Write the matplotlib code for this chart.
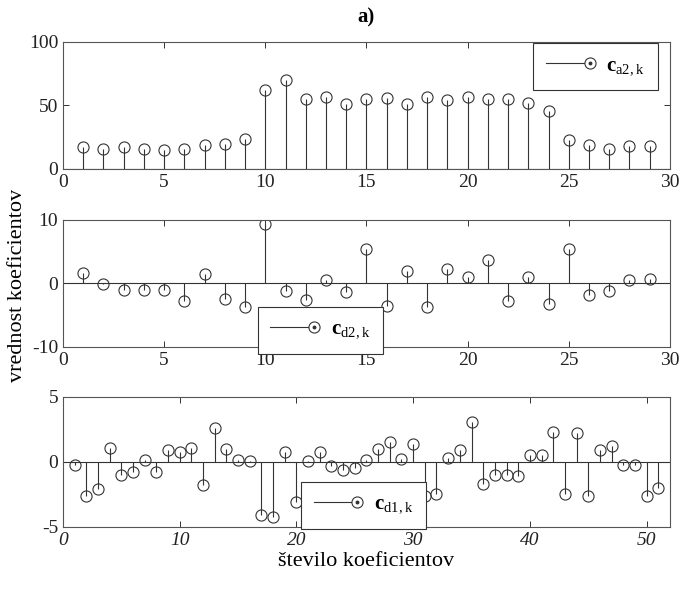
"""
Stem plots of wavelet coefficients (approximation a2 and details d2, d1).
"""

import matplotlib
matplotlib.use("Agg")
import matplotlib.pyplot as plt
from matplotlib.container import StemContainer
from matplotlib.legend_handler import HandlerBase
from matplotlib.lines import Line2D

plt.rcParams["font.family"] = ["Liberation Serif", "DejaVu Serif"]
plt.rcParams["mathtext.fontset"] = "custom"
plt.rcParams["mathtext.rm"] = "Liberation Serif"
plt.rcParams["mathtext.bf"] = "Liberation Serif:bold"
plt.rcParams["axes.unicode_minus"] = False

INK = "#333333"

# approximation coefficients, level 2
c_a2 = [17, 16, 17, 16, 15, 16, 19, 20, 24, 62, 70, 55, 57, 51, 55,
        56, 51, 57, 54, 57, 55, 55, 52, 46, 23, 19, 16, 18, 18]

# detail coefficients, level 2
c_d2 = [1.6, -0.1, -1.1, -1.1, -1.0, -2.8, 1.5, -2.4, -3.7, 9.4, -1.25,
        -2.55, 0.6, -1.35, 5.4, -3.6, 2.0, -3.75, 2.3, 0.95, 3.7, -2.7,
        1.1, -3.3, 5.4, -1.8, -1.15, 0.6, 0.7]

# detail coefficients, level 1
c_d1 = [-0.23, -2.6, -2.1, 1.05, -1.0, -0.75, 0.15, -0.75, 0.9, 0.8, 1.1,
        -1.75, 2.6, 1.0, 0.15, 0.05, -4.05, -4.25, 0.8, -3.1, 0.05, 0.75,
        -0.3, -0.6, -0.5, 0.15, 1.0, 1.5, 0.25, 1.4, -2.6, -2.45, 0.3, 0.9,
        3.1, -1.7, -1.0, -1.0, -1.1, 0.5, 0.55, 2.3, -2.45, 2.2, -2.65,
        0.95, 1.25, -0.25, -0.25, -2.6, -2.0]

labels = [r"$\mathbf{c}_{\mathrm{a2,k}}$",
          r"$\mathbf{c}_{\mathrm{d2,k}}$",
          r"$\mathbf{c}_{\mathrm{d1,k}}$"]


class StemHandle(HandlerBase):
    """Legend entry drawn as a short line that ends in a ring with a dot."""

    def create_artists(self, legend, orig_handle, xdescent, ydescent,
                       width, height, fontsize, trans):
        y = height / 2 - ydescent
        x0, x1 = -xdescent, width - xdescent
        line = Line2D([x0, x1], [y, y], color=INK, lw=0.8)
        ring = Line2D([x1], [y], marker="o", ms=8, mfc="white",
                      mec=INK, mew=0.8, ls="")
        dot = Line2D([x1], [y], marker="o", ms=1.8, color=INK, ls="")
        for art in (line, ring, dot):
            art.set_transform(trans)
        return [line, ring, dot]


def stem_panel(ax, values, xlim, ylim, xticks, yticks):
    k = list(range(1, len(values) + 1))
    stems = ax.stem(k, values, basefmt=" ")
    plt.setp(stems.stemlines, color=INK, lw=0.8)
    plt.setp(stems.markerline, color=INK, marker="o", ms=8,
             mfc="none", mec=INK, mew=0.8)
    ax.axhline(0, color=INK, lw=0.8, zorder=1)
    ax.set(xlim=xlim, ylim=ylim, xticks=xticks, yticks=yticks)
    ax.tick_params(direction="in", top=True, right=True, length=4,
                   width=0.7, colors=INK, labelsize=14, labelcolor="#222222")
    for spine in ax.spines.values():
        spine.set_color("#555555")
        spine.set_linewidth(0.8)
    return stems


fig = plt.figure(figsize=(6.86, 5.89), dpi=100)
ax1 = fig.add_axes([0.0918, 0.7131, 0.8848, 0.2156])
ax2 = fig.add_axes([0.0918, 0.4109, 0.8848, 0.2156])
ax3 = fig.add_axes([0.0918, 0.1053, 0.8848, 0.2207])

s1 = stem_panel(ax1, c_a2, (0, 30), (0, 100), range(0, 31, 5), [0, 50, 100])
s2 = stem_panel(ax2, c_d2, (0, 30), (-10, 10), range(0, 31, 5), [-10, 0, 10])
s3 = stem_panel(ax3, c_d1, (0, 52), (-5, 5), range(0, 51, 10), [-5, 0, 5])
for lab in ax3.get_xticklabels():
    lab.set_style("italic")

legend_kw = dict(handler_map={StemContainer: StemHandle()},
                 fancybox=False, framealpha=1, edgecolor="#333333",
                 fontsize=15, handlelength=2.1, handletextpad=0.8,
                 borderpad=0.6, borderaxespad=0)
leg1 = ax1.legend([s1], [labels[0]], loc="upper right",
                  bbox_to_anchor=(0.980, 0.992), **legend_kw)
leg2 = ax2.legend([s2], [labels[1]], loc="upper left",
                  bbox_to_anchor=(0.376, 0.4788),
                  bbox_transform=fig.transFigure, **legend_kw)
leg3 = ax3.legend([s3], [labels[2]], loc="upper left",
                  bbox_to_anchor=(0.4388, 0.1817),
                  bbox_transform=fig.transFigure, **legend_kw)
for leg in (leg1, leg2, leg3):
    leg.get_frame().set_linewidth(0.8)
    leg.set_zorder(5)

ax1.set_title("a)", fontsize=15, fontweight="bold", pad=14)
ax3.set_xlabel("število koeficientov", fontsize=16, labelpad=2)
fig.text(0.026, 1 - 285 / 589, "vrednost koeficientov", rotation=90,
         ha="center", va="center", fontsize=16)

fig.savefig("out.png", dpi=100)
